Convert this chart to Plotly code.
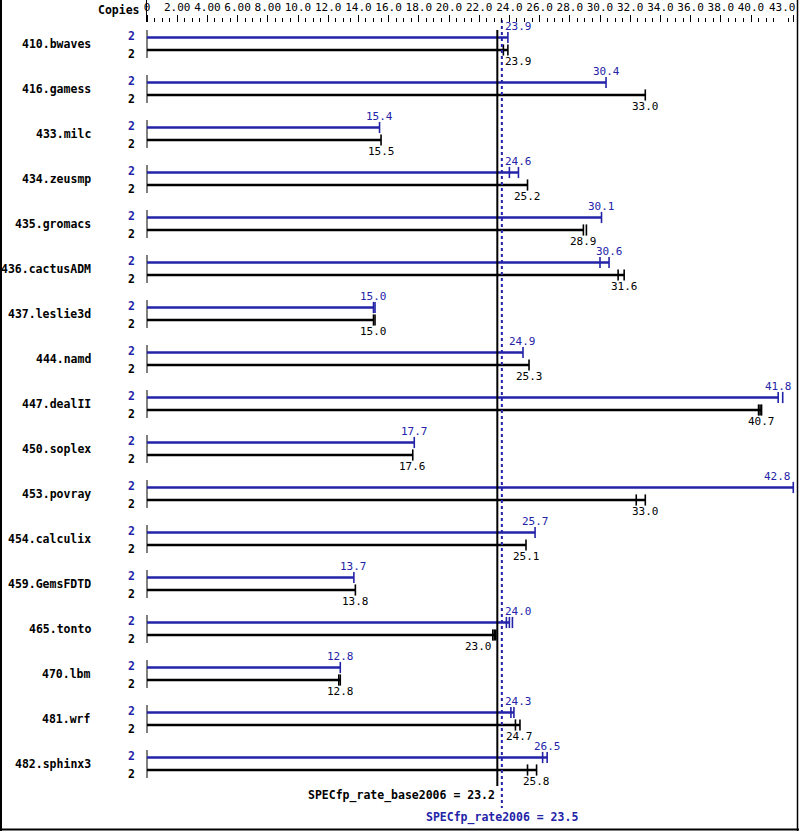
import plotly.graph_objects as go

# ---------------- data ----------------
benchmarks = ["410.bwaves", "416.gamess", "433.milc", "434.zeusmp", "435.gromacs",
              "436.cactusADM", "437.leslie3d", "444.namd", "447.dealII", "450.soplex",
              "453.povray", "454.calculix", "459.GemsFDTD", "465.tonto", "470.lbm",
              "481.wrf", "482.sphinx3"]
copies_peak = [2] * 17
copies_base = [2] * 17
peak = [23.9, 30.4, 15.4, 24.6, 30.1, 30.6, 15.0, 24.9, 41.8, 17.7, 42.8, 25.7, 13.7,
        24.0, 12.8, 24.3, 26.5]
base = [23.9, 33.0, 15.5, 25.2, 28.9, 31.6, 15.0, 25.3, 40.7, 17.6, 33.0, 25.1, 13.8,
        23.0, 12.8, 24.7, 25.8]
peak_runs = [[23.9], [30.4], [15.4], [24.0, 24.6], [30.1], [30.0, 30.6], [15.0, 15.1],
             [24.9], [41.8, 42.1], [17.7], [42.8], [25.7], [13.7], [23.8, 24.0, 24.2],
             [12.8], [24.1, 24.3], [26.2, 26.5]]
base_runs = [[23.6, 23.9], [33.0], [15.5], [25.2], [28.9, 29.1], [31.2, 31.6], [15.0, 15.1],
             [25.3], [40.5, 40.6, 40.7], [17.6], [32.4, 33.0], [25.1], [13.8],
             [22.9, 23.0, 23.1], [12.7, 12.8], [24.4, 24.7], [25.2, 25.8]]
base_overall = 23.2
peak_overall = 23.5
tick_vals = [0, 2, 4, 6, 8, 10, 12, 14, 16, 18, 20, 22, 24, 26, 28, 30, 32, 34, 36, 38, 40, 42.8]
tick_text = ["0", "2.00", "4.00", "6.00", "8.00", "10.0", "12.0", "14.0", "16.0", "18.0",
             "20.0", "22.0", "24.0", "26.0", "28.0", "30.0", "32.0", "34.0", "36.0",
             "38.0", "40.0", ""]
last_tick_label = "43.0"

# ---------------- style ----------------
BLUE = "#2323a8"
BLACK = "#000000"
FONT = "DejaVu Sans Mono"
W, H = 799, 831
ROW = 45.0          # pixels per benchmark row
TOP = 44.0          # pixel centre of first row
PEAK_OFF = -6.5 / ROW
BASE_OFF = 6.0 / ROW

fig = go.Figure()

n = len(benchmarks)
idx = list(range(n))

# left separator lines per benchmark
sx, sy = [], []
for i in idx:
    sx += [0, 0, None]
    sy += [i - 14 / ROW, i + 14 / ROW, None]
fig.add_trace(go.Scatter(x=sx, y=sy, mode="lines", line=dict(color=BLACK, width=1),
                         hoverinfo="skip"))

# bars
for vals, off, col in [(peak, PEAK_OFF, BLUE), (base, BASE_OFF, BLACK)]:
    bx, by = [], []
    for i, v in zip(idx, vals):
        bx += [0, v, None]
        by += [i + off, i + off, None]
    fig.add_trace(go.Scatter(x=bx, y=by, mode="lines", line=dict(color=col, width=2.5),
                             hoverinfo="skip"))

# run markers
for runs, off, col in [(peak_runs, PEAK_OFF, BLUE), (base_runs, BASE_OFF, BLACK)]:
    mx, my = [], []
    for i, rr in zip(idx, runs):
        for r in rr:
            mx.append(r)
            my.append(i + off)
    fig.add_trace(go.Scatter(x=mx, y=my, mode="markers",
                             marker=dict(symbol="line-ns", size=8,
                                         line=dict(color=col, width=1.6)),
                             hoverinfo="skip"))

# overall lines
fig.add_trace(go.Scatter(x=[base_overall, base_overall],
                         y=[-14 / ROW, (786 - TOP) / ROW], mode="lines",
                         line=dict(color=BLACK, width=2), hoverinfo="skip"))
fig.add_trace(go.Scatter(x=[peak_overall, peak_overall],
                         y=[(20 - TOP) / ROW, (808 - TOP) / ROW], mode="lines",
                         line=dict(color=BLUE, width=2, dash="dot"), hoverinfo="skip"))

ann = []
# benchmark names and copies
for i, name in zip(idx, benchmarks):
    ann.append(dict(x=93 / W, xref="paper", y=i, yref="y", text=name, showarrow=False,
                    xanchor="right", yanchor="middle",
                    font=dict(family=FONT, size=11.5, color=BLACK, weight="bold")))
    ann.append(dict(x=131 / W, xref="paper", y=i - 8.5 / ROW, yref="y",
                    text=str(copies_peak[i]), showarrow=False, xanchor="center",
                    yanchor="middle",
                    font=dict(family=FONT, size=11.5, color=BLUE, weight="bold")))
    ann.append(dict(x=131 / W, xref="paper", y=i + 10 / ROW, yref="y",
                    text=str(copies_base[i]), showarrow=False, xanchor="center",
                    yanchor="middle",
                    font=dict(family=FONT, size=11.5, color=BLACK, weight="bold")))


def label_pos(v):
    half = 0.86
    if v >= base_overall + 0.15 and v - half < peak_overall + 0.1:
        return peak_overall + 0.1, "left"
    if v < base_overall + 0.15 and v + half > base_overall - 0.1:
        return v, "right"
    return v, "center"


for vals, off, col in [(peak, -17.5 / ROW, BLUE), (base, 17.0 / ROW, BLACK)]:
    for i, v in zip(idx, vals):
        x, anc = label_pos(v)
        if v >= 42.5:
            anc = "right"
        ann.append(dict(x=x, y=i + off, xref="x", yref="y", text=f"{v:.1f}",
                        showarrow=False, xanchor=anc, yanchor="middle",
                        font=dict(family=FONT, size=11, color=col)))

# header
ann.append(dict(x=142 / W, xref="paper", y=1 - 10 / H, yref="paper", text="Copies",
                showarrow=False, xanchor="right", yanchor="middle",
                font=dict(family=FONT, size=11.5, color=BLACK, weight="bold")))
ann.append(dict(x=798 / W, xref="paper", y=1 - 8 / H, yref="paper", text=last_tick_label,
                showarrow=False, xanchor="right", yanchor="middle",
                font=dict(family=FONT, size=11, color=BLACK)))
# overall labels
ann.append(dict(x=base_overall, xref="x", y=(795 - TOP) / ROW, yref="y",
                text=f"SPECfp_rate_base2006 = {base_overall}", showarrow=False,
                xanchor="right", yanchor="middle",
                font=dict(family=FONT, size=11.5, color=BLACK, weight="bold")))
ann.append(dict(x=peak_overall, xref="x", y=(817 - TOP) / ROW, yref="y",
                text=f"SPECfp_rate2006 = {peak_overall}", showarrow=False,
                xanchor="center", yanchor="middle",
                font=dict(family=FONT, size=11.5, color=BLUE, weight="bold")))

minor_vals = [k * 0.5 for k in range(1, 86) if k % 4 != 0]

shapes = [
    dict(type="line", xref="paper", yref="paper", x0=1 / W, x1=1 / W, y0=0, y1=1,
         line=dict(color=BLACK, width=2)),
    dict(type="line", xref="paper", yref="paper", x0=0, x1=1, y0=1.5 / H, y1=1.5 / H,
         line=dict(color=BLACK, width=2)),
    dict(type="line", xref="paper", yref="paper", x0=797.5 / W, x1=797.5 / W, y0=0, y1=1,
         line=dict(color=BLACK, width=1.5)),
    dict(type="line", xref="paper", yref="paper", x0=146.5 / W, x1=146.5 / W,
         y0=1 - 22 / H, y1=1, line=dict(color=BLACK, width=1)),
]

fig.update_layout(
    width=W, height=H, margin=dict(l=0, r=0, t=0, b=0, pad=0),
    paper_bgcolor="white", plot_bgcolor="white", showlegend=False,
    annotations=ann, shapes=shapes,
    xaxis=dict(range=[-147 / 15.1, 652 / 15.1], domain=[0, 1], anchor="free",
               position=1 - 22 / H, side="top", tickmode="array", tickvals=tick_vals,
               ticktext=tick_text, ticks="outside", ticklen=7, tickwidth=1,
               tickcolor=BLACK, showgrid=False, zeroline=False, showline=False,
               tickfont=dict(family=FONT, size=11, color=BLACK),
               minor=dict(tickmode="array", tickvals=minor_vals, ticks="outside",
                          ticklen=4, tickwidth=1, tickcolor=BLACK, showgrid=False)),
    yaxis=dict(range=[(H - TOP) / ROW, -TOP / ROW], domain=[0, 1], visible=False,
               fixedrange=True),
)

fig.write_html("out.html", config={"displayModeBar": False},
               post_script="document.body.style.margin='0';"
                           "document.body.style.overflow='hidden';")
